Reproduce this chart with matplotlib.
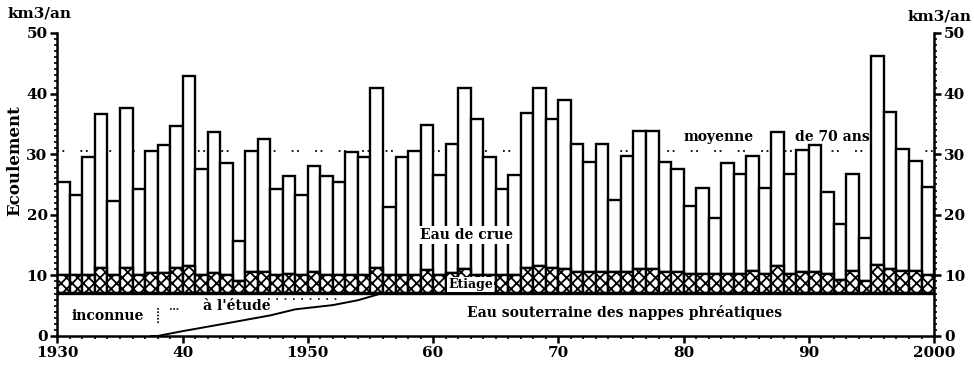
import numpy as np
import matplotlib
matplotlib.use("Agg")
import matplotlib.pyplot as plt
from matplotlib.ticker import MultipleLocator

# ---- data (km3/an) ----
years = list(range(1930, 2000))
total = [25.4, 23.3, 29.6, 36.7, 22.2, 37.7, 24.3, 30.6, 31.5, 34.7,
         42.9, 27.5, 33.6, 28.5, 15.7, 30.6, 32.5, 24.3, 26.4, 23.3,
         28.1, 26.4, 25.4, 30.3, 29.6, 40.9, 21.3, 29.6, 30.6, 34.8,
         26.6, 31.7, 40.9, 35.8, 29.6, 24.3, 26.6, 36.8, 40.9, 35.8,
         39.0, 31.7, 28.7, 31.7, 22.4, 29.7, 33.9, 33.9, 28.7, 27.6,
         21.4, 24.5, 19.4, 28.6, 26.7, 29.7, 24.5, 33.6, 26.7, 30.7,
         31.5, 23.7, 18.4, 26.7, 16.1, 46.2, 36.9, 30.8, 28.8, 24.6]
etiage = [10.0, 10.0, 10.0, 11.2, 10.0, 11.2, 10.0, 10.4, 10.4, 11.2,
          11.6, 10.0, 10.4, 10.0, 9.0, 10.5, 10.5, 10.0, 10.3, 10.0,
          10.5, 10.0, 10.0, 10.0, 10.0, 11.3, 10.0, 10.0, 10.0, 10.9,
          10.0, 10.4, 11.1, 10.0, 10.0, 10.0, 10.0, 11.3, 11.6, 11.3,
          11.0, 10.5, 10.5, 10.5, 10.5, 10.6, 11.0, 11.0, 10.5, 10.5,
          10.2, 10.2, 10.2, 10.3, 10.2, 10.7, 10.2, 11.5, 10.2, 10.6,
          10.6, 10.2, 9.3, 10.7, 9.0, 11.7, 11.1, 10.8, 10.8, 10.0]
nappe = 7.1
moyenne = 30.5
etude_years = [1937.5, 1938, 1940, 1943, 1947, 1949, 1952, 1954, 1956]
etude_vals = [0.0, 0.0, 0.8, 1.9, 3.4, 4.4, 5.1, 5.9, 7.1]
xticks = [1930, 1940, 1950, 1960, 1970, 1980, 1990, 2000]
xticklabels = ['1930', '40', '1950', '60', '70', '80', '90', '2000']
yticks = [0, 10, 20, 30, 40, 50]

plt.rcParams['font.family'] = ['DejaVu Serif']
plt.rcParams['hatch.linewidth'] = 1.3

fig = plt.figure(figsize=(9.74, 3.67), dpi=100)
ax = fig.add_axes([0.0589, 0.0845, 0.9001, 0.8256])
ax.set_xlim(1930, 2000)
ax.set_ylim(0, 50)

tot = np.array(total)
eti = np.array(etiage)

# mean line (behind bars)
ax.axhline(moyenne, color='black', lw=1.3, ls=(0, (1, 2, 1, 9)), zorder=1)

# flood water part
ax.bar(years, tot - eti, bottom=eti, width=1, align='edge', color='white',
       edgecolor='black', lw=1.7, zorder=2)
# low-water part
ax.bar(years, eti - nappe, bottom=nappe, width=1, align='edge', color='white',
       edgecolor='black', hatch='xxx', lw=1.7, zorder=2)
# groundwater
ax.axhline(nappe, color='black', lw=2.4, zorder=3)
ax.plot(etude_years, etude_vals, color='black', lw=1.4, zorder=3)

# axes styling
for s in ['left', 'right', 'bottom']:
    ax.spines[s].set_linewidth(1.8)
ax.spines['top'].set_visible(False)
ax.set_xticks(xticks)
ax.set_xticklabels(xticklabels)
ax.set_yticks(yticks)
ax.xaxis.set_minor_locator(MultipleLocator(1))
ax.yaxis.set_minor_locator(MultipleLocator(1))
ax.yaxis.set_ticks_position('both')
ax.tick_params(axis='both', which='major', direction='out', length=5, width=1.8,
               labelsize=11, pad=2)
ax.tick_params(axis='both', which='minor', direction='out', length=2.5, width=1.2)
ax.tick_params(axis='y', labelright=True)
for lab in ax.get_xticklabels() + ax.get_yticklabels():
    lab.set_fontweight('bold')

# unit labels
fig.text(0.008, 0.963, 'km3/an', fontsize=11, fontweight='bold', ha='left', va='center')
fig.text(0.997, 0.955, 'km3/an', fontsize=11, fontweight='bold', ha='right', va='center')
ax.set_ylabel('Ecoulement', fontsize=12, fontweight='bold')
ax.yaxis.set_label_coords(-0.039, 0.58)

# annotations
txt_kw = dict(fontsize=10, fontweight='bold', ha='center', va='center', zorder=5)
ax.text(1962.7, 16.7, 'Eau de crue',
        bbox=dict(facecolor='white', edgecolor='none', pad=1.5), **txt_kw)
ax.text(1963.0, 8.5, 'Etiage',
        bbox=dict(facecolor='white', edgecolor='none', pad=0.5), fontsize=9,
        fontweight='bold', ha='center', va='center', zorder=5)
ax.text(1975.3, 3.8, 'Eau souterraine des nappes phréatiques', **txt_kw)
ax.text(1934.0, 3.3, 'inconnue', **txt_kw)
ax.plot([1938.0, 1938.0], [2.2, 4.8], color='black', lw=1.2, ls=(0, (1, 1)), zorder=5)
ax.plot([1939.0, 1939.8], [4.4, 4.4], color='black', lw=1.2, ls=(0, (1, 1)), zorder=5)
ax.text(1944.3, 5.0, "à l'étude", **txt_kw)
ax.plot([1946.8, 1952.5], [6.1, 6.1], color='black', lw=1.2, ls=(0, (1, 4)), zorder=5)
ax.text(1982.8, 32.9, 'moyenne', **txt_kw)
ax.text(1991.9, 32.9, 'de 70 ans', **txt_kw)

fig.savefig('out.png', dpi=100)
